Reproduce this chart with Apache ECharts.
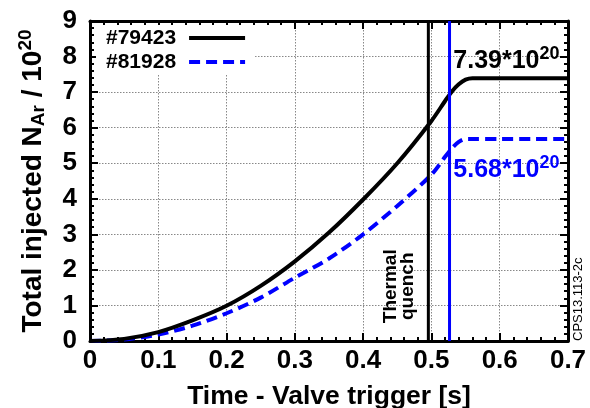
<!DOCTYPE html>
<html>
<head>
<meta charset="utf-8">
<script src="https://cdn.jsdelivr.net/npm/echarts@6/dist/echarts.min.js"></script>
<style>
html,body{margin:0;padding:0;background:#fff;}
#main{width:590px;height:408px;}
</style>
</head>
<body>
<div id="main"></div>
<script>
// ---- data ----
const times    = [0, 0.05, 0.1, 0.15, 0.2, 0.25, 0.3, 0.35, 0.4, 0.45, 0.5, 0.52, 0.53, 0.54, 0.55, 0.56, 0.6, 0.65, 0.7];
const shot79423 = [0, 0.06, 0.25, 0.58, 0.99, 1.55, 2.24, 3.05, 3.98, 5.0, 6.19, 6.75, 7.02, 7.22, 7.35, 7.39, 7.39, 7.39, 7.39];
const shot81928 = [0, 0.04, 0.18, 0.43, 0.78, 1.22, 1.78, 2.32, 3.0, 3.8, 4.68, 5.18, 5.42, 5.6, 5.68, 5.68, 5.68, 5.68, 5.68];
const seriesNames = ['#79423', '#81928'];
const tqTimes = [0.4955, 0.5265];        // thermal quench markers
const finalLabels = ['7.39', '5.68'];
const xTicks = {min: 0, max: 0.7, interval: 0.1};
const yTicks = {min: 0, max: 9, interval: 1};

const FONT = 'Liberation Sans, Arial, sans-serif';
const toPairs = (xs, ys) => xs.map((x, i) => [x, ys[i]]);
const vline = (t) => [[t, yTicks.min], [t, yTicks.max]];

const chart = echarts.init(document.getElementById('main'));

const axisCommon = {
  axisLine: {show: true, onZero: false, lineStyle: {color: '#000', width: 3}},
  axisTick: {show: true, inside: true, length: 8, lineStyle: {color: '#000', width: 2}},
  minorTick: {show: true, splitNumber: 5, length: 4, lineStyle: {color: '#000', width: 2}}
};

const option = {
  backgroundColor: '#fff',
  animation: false,
  grid: {left: 90, right: 22, top: 21, bottom: 67, containLabel: false, outerBoundsMode: 'none'},
  legend: {
    left: 96, top: 25,
    orient: 'vertical',
    align: 'right',
    itemWidth: 56, itemHeight: 12, itemGap: 2,
    padding: [2, 8, 2, 10],
    backgroundColor: '#fff',
    itemStyle: {color: 'rgba(0,0,0,0)', borderColor: 'rgba(0,0,0,0)', borderWidth: 0, opacity: 0},
    lineStyle: {width: 4},
    textStyle: {fontFamily: FONT, fontWeight: 'bold', fontSize: 21, color: '#000', lineHeight: 22, padding: [0, 8, 0, 0]},
    data: seriesNames
  },
  xAxis: [
    Object.assign({
      type: 'value', min: xTicks.min, max: xTicks.max, interval: xTicks.interval,
      name: 'Time - Valve trigger [s]', nameLocation: 'middle', nameGap: 42,
      nameTextStyle: {fontFamily: FONT, fontWeight: 'bold', fontSize: 26.5, color: '#000'},
      axisLabel: {fontFamily: FONT, fontWeight: 'bold', fontSize: 26, color: '#000', margin: 7,
        formatter: v => String(Math.round(v * 10) / 10)},
      splitLine: {show: true, lineStyle: {color: '#888', type: [1.5, 1.5], width: 1}}
    }, axisCommon),
    Object.assign({
      type: 'value', position: 'top', min: xTicks.min, max: xTicks.max, interval: xTicks.interval,
      axisLabel: {show: false}, splitLine: {show: false}
    }, axisCommon)
  ],
  yAxis: [
    Object.assign({
      type: 'value', min: yTicks.min, max: yTicks.max, interval: yTicks.interval,
      name: 'Total injected N{sub|Ar} / 10{sup|20}', nameLocation: 'middle', nameGap: 40, nameRotate: 90,
      nameTextStyle: {fontFamily: FONT, fontWeight: 'bold', fontSize: 28, color: '#000',
        rich: {
          sub: {fontFamily: FONT, fontWeight: 'bold', fontSize: 19, color: '#000', padding: [11, 0, 0, 0]},
          sup: {fontFamily: FONT, fontWeight: 'bold', fontSize: 19, color: '#000', padding: [0, 0, 15, 0]}
        }},
      axisLabel: {fontFamily: FONT, fontWeight: 'bold', fontSize: 26, color: '#000', margin: 13},
      splitLine: {show: true, lineStyle: {color: '#888', type: [1.5, 1.5], width: 1}}
    }, axisCommon),
    Object.assign({
      type: 'value', position: 'right', min: yTicks.min, max: yTicks.max, interval: yTicks.interval,
      axisLabel: {show: false}, splitLine: {show: false}
    }, axisCommon)
  ],
  series: [
    {
      name: seriesNames[0], type: 'line', data: toPairs(times, shot79423),
      showSymbol: false, symbol: 'none', smooth: 0.3,
      lineStyle: {color: '#000', width: 4}, itemStyle: {color: '#000'}, z: 3
    },
    {
      name: seriesNames[1], type: 'line', data: toPairs(times, shot81928),
      showSymbol: false, symbol: 'none', smooth: 0.3,
      lineStyle: {color: '#0000ff', width: 4, type: [11, 6]}, itemStyle: {color: '#0000ff'}, z: 2
    },
    {
      name: 'TQ ' + seriesNames[0], type: 'line', data: vline(tqTimes[0]), silent: true,
      showSymbol: false, symbol: 'none', lineStyle: {color: '#000', width: 3}, z: 4
    },
    {
      name: 'TQ ' + seriesNames[1], type: 'line', data: vline(tqTimes[1]), silent: true,
      showSymbol: false, symbol: 'none', lineStyle: {color: '#0000ff', width: 3}, z: 4
    }
  ]
};
chart.setOption(option);

// annotations positioned in data space
const p1 = chart.convertToPixel({xAxisIndex: 0, yAxisIndex: 0}, [0.532, 7.52]);
const p2 = chart.convertToPixel({xAxisIndex: 0, yAxisIndex: 0}, [0.532, 5.38]);
const p3 = chart.convertToPixel({xAxisIndex: 0, yAxisIndex: 0}, [0.4535, 1.54]);
const p4 = chart.convertToPixel({xAxisIndex: 0, yAxisIndex: 0}, [0.7, 0.0]);

const richNum = (color) => ({
  a: {fontFamily: FONT, fontWeight: 'bold', fontSize: 25, fill: color, color: color, padding: [8, 0, 0, 0]},
  s: {fontFamily: FONT, fontWeight: 'bold', fontSize: 18, fill: color, color: color, padding: [0, 0, 7, 0]}
});

chart.setOption({
  graphic: [
    {type: 'text', x: p1[0], y: p1[1], z: 100,
      style: {text: '{a|' + finalLabels[0] + '*10}{s|20}', rich: richNum('#000'), verticalAlign: 'bottom', align: 'left'}},
    {type: 'text', x: p2[0], y: p2[1], z: 100,
      style: {text: '{a|' + finalLabels[1] + '*10}{s|20}', rich: richNum('#0000ff'), verticalAlign: 'top', align: 'left'}},
    {type: 'text', x: p3[0], y: p3[1], rotation: Math.PI / 2, z: 100,
      style: {text: 'Thermal\nquench', fontFamily: FONT, fontWeight: 'bold', fontSize: 19, lineHeight: 17,
        fill: '#000', align: 'center', verticalAlign: 'middle'}},
    {type: 'text', x: p4[0] + 10, y: p4[1], rotation: Math.PI / 2, z: 100,
      style: {text: 'CPS13.113-2c', fontFamily: FONT, fontSize: 13, fill: '#000', align: 'left', verticalAlign: 'middle'}}
  ]
});
</script>
</body>
</html>
